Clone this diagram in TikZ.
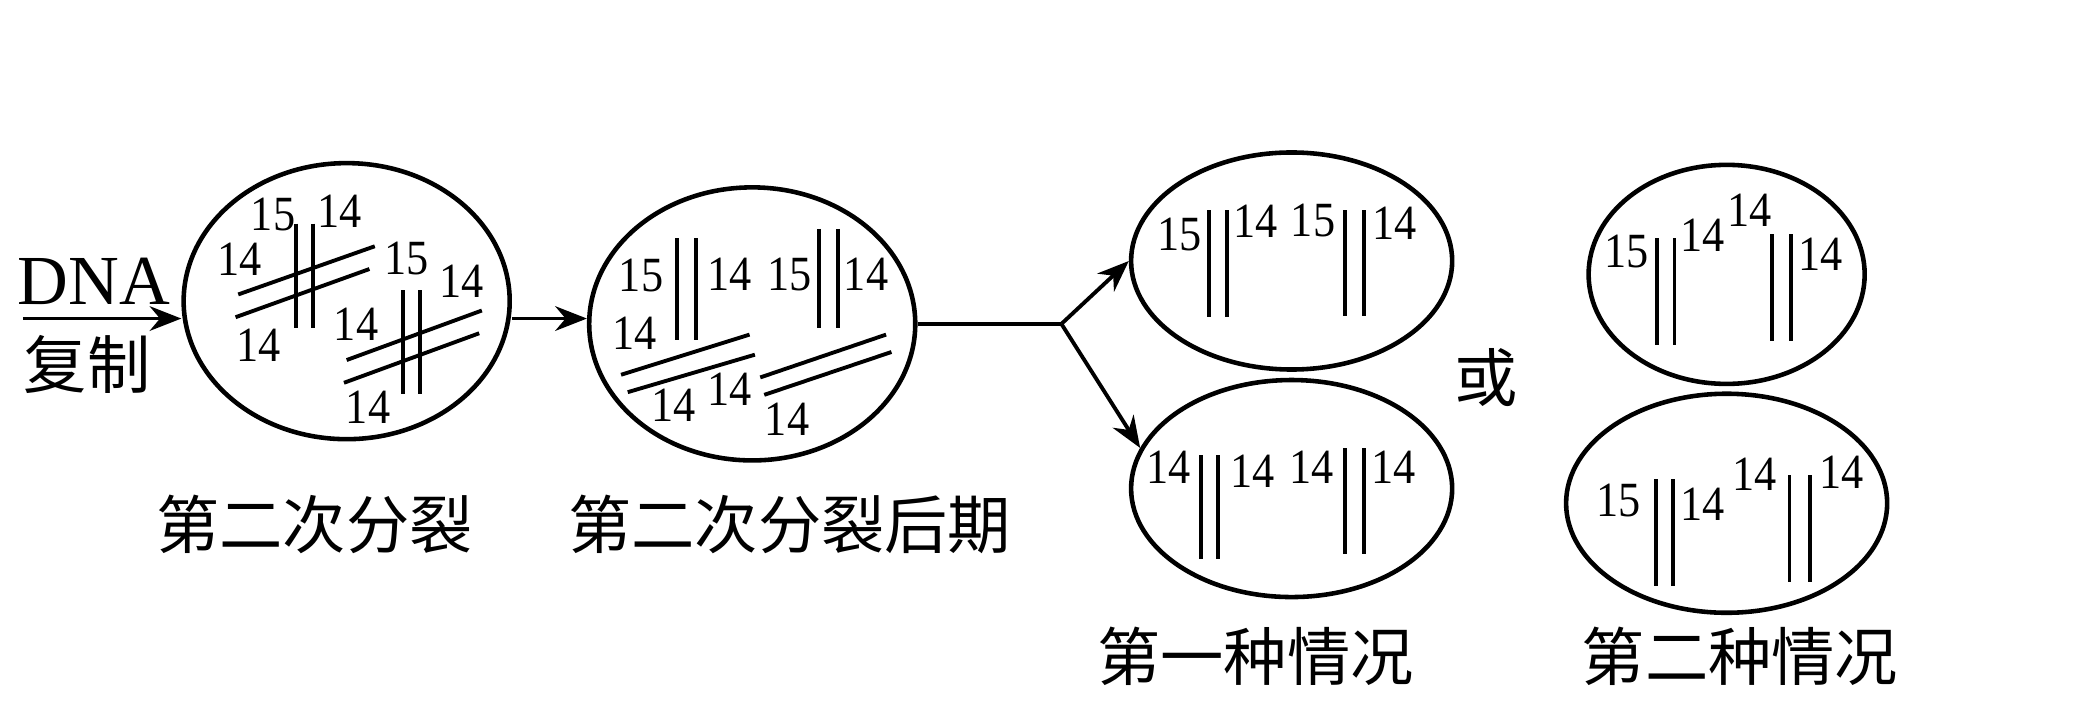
\documentclass[tikz,border=0pt]{standalone}
\usepackage{fontspec}
\setmainfont{Liberation Serif}
\newfontfamily\cjk{Noto Sans CJK SC}
\usetikzlibrary{shapes.geometric,arrows.meta}
\tikzstyle{cell}=[draw,ellipse,line width=1.3pt,inner sep=0pt]
\tikzstyle{num}=[inner sep=0pt,font=\fontsize{14}{14}\selectfont,xscale=0.9]
\tikzstyle{caption}=[inner sep=0pt,font=\cjk\fontsize{18}{18}\selectfont]
\tikzstyle{strand}=[line width=1.1pt]
\tikzstyle{flow}=[line width=1.1pt,-{Stealth[length=9pt,width=7pt]}]
% double strands
\newcommand{\pairv}[4]{\draw[strand] (#1,#3) -- (#1,#4) (#2,#3) -- (#2,#4);}
\newcommand{\pairs}[4]{\draw[strand] #1 -- #2 #3 -- #4;}

\begin{document}
\begin{tikzpicture}[x=0.01338cm,y=-0.01338cm]
    \useasboundingbox (0,0) rectangle (1560,533);
    % input
    \node[inner sep=0pt,font=\fontsize{20}{20}\selectfont] (dna) at (70,210) {DNA};
    \node[caption] (fz) at (65,272) {复制};
    \coordinate (in) at (17,238);
    % cells
    \node[cell,minimum width=3.26cm,minimum height=2.76cm] (c1) at (259,225) {};
    \node[cell,minimum width=3.26cm,minimum height=2.73cm] (c2) at (562,242) {};
    \node[cell,minimum width=3.21cm,minimum height=2.17cm] (c3) at (965,195) {};
    \node[cell,minimum width=3.21cm,minimum height=2.17cm] (c4) at (965,365) {};
    \node[cell,minimum width=2.76cm,minimum height=2.19cm] (c5) at (1290,205) {};
    \node[cell,minimum width=3.21cm,minimum height=2.19cm] (c6) at (1290,376) {};
    % connectors
    \coordinate (split) at (793,242);
    \draw[flow] (in) -- (in -| c1.west);
    \draw[flow] (c1.east |- 0,238) -- (c2.west |- 0,238);
    \draw[strand] (c2.east) -- (split);
    \draw[flow] (split) -- (c3.west);
    \draw[flow] (split) -- (c4.165);
    % cell 1
    \pairv{221}{234}{167}{245}
    \pairv{301}{314}{217}{294}
    \pairs{(178,220)}{(280,184)}{(176,237)}{(276,201)}
    \pairs{(259,269)}{(360,232)}{(257,286)}{(358,249)}
    \node[num] (a1) at (204,160) {15};
    \node[num] (a2) at (254,158) {14};
    \node[num] (a3) at (179,194) {14};
    \node[num] (a4) at (304,193) {15};
    \node[num] (a5) at (193,258) {14};
    \node[num] (a6) at (345,210) {14};
    \node[num] (a7) at (266,242) {14};
    \node[num] (a8) at (275,304) {14};
    % cell 2
    \pairv{506}{520}{178}{254}
    \pairv{612}{626}{171}{245}
    \pairs{(464,280)}{(560,250)}{(469,293)}{(564,265)}
    \pairs{(568,282)}{(662,250)}{(571,295)}{(666,263)}
    \node[num] (b1) at (479,206) {15};
    \node[num] (b2) at (545,205) {14};
    \node[num] (b3) at (590,205) {15};
    \node[num] (b4) at (647,205) {14};
    \node[num] (b5) at (474,249) {14};
    \node[num] (b6) at (503,303) {14};
    \node[num] (b7) at (545,291) {14};
    \node[num] (b8) at (588,313) {14};
    % cell 3
    \pairv{903}{917}{157}{237}
    \pairv{1005}{1019}{157}{236}
    \node[num] (d1) at (881,175) {15};
    \node[num] (d2) at (938,165) {14};
    \node[num] (d3) at (981,165) {15};
    \node[num] (d4) at (1042,167) {14};
    % cell 4
    \pairv{897}{910}{340}{418}
    \pairv{1005}{1019}{335}{414}
    \node[num] (e1) at (873,349) {14};
    \node[num] (e2) at (936,352) {14};
    \node[num] (e3) at (980,349) {14};
    \node[num] (e4) at (1041,349) {14};
    % cell 5
    \pairv{1238}{1251}{178}{258}
    \pairv{1324}{1338}{175}{255}
    \node[num] (f1) at (1215,188) {15};
    \node[num] (f2) at (1272,176) {14};
    \node[num] (f3) at (1307,157) {14};
    \node[num] (f4) at (1360,190) {14};
    % cell 6
    \pairv{1237}{1250}{358}{438}
    \pairv{1337}{1352}{355}{435}
    \node[num] (g1) at (1209,374) {15};
    \node[num] (g2) at (1272,377) {14};
    \node[num] (g3) at (1311,354) {14};
    \node[num] (g4) at (1376,353) {14};
    % captions
    \node[caption] (huo) at (1110,282) {或};
    \node[caption] (t1) at (235,392) {第二次分裂};
    \node[caption] (t2) at (590,392) {第二次分裂后期};
    \node[caption] (t3) at (938,490) {第一种情况};
    \node[caption] (t4) at (1300,490) {第二种情况};
\end{tikzpicture}
\end{document}
